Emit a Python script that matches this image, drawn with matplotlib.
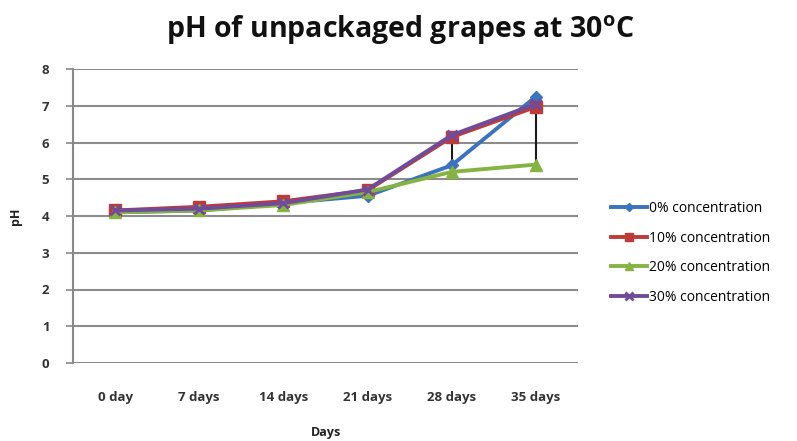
import matplotlib
matplotlib.use("Agg")
import matplotlib.pyplot as plt
import numpy as np

categories = ["0 day", "7 days", "14 days", "21 days", "28 days", "35 days"]
ph_0 = [4.10, 4.15, 4.35, 4.55, 5.38, 7.25]
ph_10 = [4.15, 4.25, 4.40, 4.70, 6.15, 6.97]
ph_20 = [4.10, 4.15, 4.30, 4.65, 5.20, 5.40]
ph_30 = [4.15, 4.20, 4.35, 4.72, 6.20, 7.05]
series_names = ["0% concentration", "10% concentration", "20% concentration", "30% concentration"]

plt.rcParams['font.family'] = ['Open Sans', 'DejaVu Sans']

fig = plt.figure(figsize=(7.97, 4.41), dpi=100)
ax = fig.add_axes([73/797, 1-363/441, 505/797, 294/441])

x = np.arange(len(categories))
series = [ph_0, ph_10, ph_20, ph_30]
colors = ["#3a73be", "#be3b38", "#86b442", "#6f4b9a"]
markers = ["D", "s", "^", "x"]
msizes = [6, 8, 8, 7]

# high-low lines
arr = np.array(series)
ax.vlines(x, arr.min(axis=0), arr.max(axis=0), colors="#1a1a1a", lw=1.5, zorder=2)

for vals, c, m, ms, name in zip(series, colors, markers, msizes, series_names):
    ax.plot(x, vals, color=c, lw=2.8, marker=m, ms=ms, mew=2 if m == "x" else 1,
            mec=c, mfc=c, label=name, zorder=3)

ax.set_xlim(-0.5, len(categories) - 0.5)
ax.set_ylim(0, 8)
ax.set_yticks(range(0, 9))
ax.set_xticks(x)
ax.set_xticklabels(categories, fontsize=9.5, fontweight="bold", color="#333333")
ax.tick_params(axis="x", length=0, pad=20)
ax.tick_params(axis="y", length=5, width=1.2, color="#888888", labelsize=9.5, pad=12)
for lbl in ax.get_yticklabels():
    lbl.set_fontweight("bold")
    lbl.set_color("#333333")
ax.grid(axis="y", color="#8c8c8c", lw=1.5)
ax.set_axisbelow(True)
for s in ["top", "right", "bottom"]:
    ax.spines[s].set_visible(False)
ax.spines["left"].set_color("#888888")
ax.spines["left"].set_linewidth(1.5)

ax.set_xlabel("Days", fontsize=9, fontweight="bold", labelpad=16, color="#222222")
ax.set_ylabel("pH", fontsize=9, fontweight="bold", labelpad=14, color="#222222")

fig.text(400/797, 1-30/441, "pH of unpackaged grapes at 30$^{\\mathregular{o}}$C",
         ha="center", va="center", fontsize=20.5, fontweight="bold", color="#111111")

leg = fig.legend(loc="center left", bbox_to_anchor=(598/797, 1-253/441), frameon=False,
                 fontsize=10, labelspacing=1.05, handlelength=2.6, handletextpad=0.15,
                 markerscale=0.75)

fig.savefig("out.png", dpi=100)
